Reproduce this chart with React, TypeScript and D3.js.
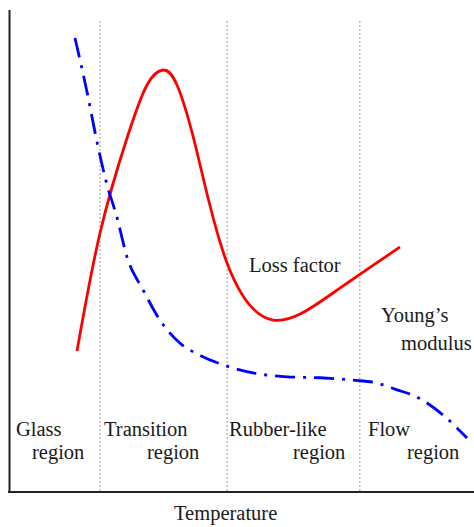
import React from "react";
import * as d3 from "d3";

// Temperature (arbitrary units 0..100) and response (arbitrary units 0..100)
const lossTemp = [14.44, 19.4, 25.22, 29.53, 32.97, 35.99, 40.3, 46.77, 56.68, 69.61, 84.05];
const lossValue = [29.25, 53.73, 73.44, 84.44, 87.55, 84.44, 70.54, 47.51, 35.68, 41.29, 50.83];

const modTemp = [14.0, 16.6, 18.8, 20.7, 23.1, 25.2, 28.7, 32.3, 36.6, 40.9, 46.8, 52.4, 59.7, 66.8, 73.9, 79.1, 83.4, 87.7, 93.3, 98.5];
const modValue = [94.2, 83.0, 72.4, 64.5, 56.8, 48.8, 41.9, 35.7, 30.9, 28.4, 26.1, 24.7, 23.9, 23.7, 23.2, 22.6, 21.2, 19.7, 16.0, 11.2];

// Region boundaries (temperature units)
const boundaries = [19.4, 46.8, 75.4];
const regionNames = [
  ["Glass", "region"],
  ["Transition", "region"],
  ["Rubber-like", "region"],
  ["Flow", "region"],
];

const W = 474;
const H = 527;

export default function App() {
  const x = d3.scaleLinear().domain([0, 100]).range([10, 474]);
  const y = d3.scaleLinear().domain([0, 100]).range([492, 10]);

  const lossLine = d3
    .line<[number, number]>()
    .x((d) => x(d[0]))
    .y((d) => y(d[1]))
    .curve(d3.curveNatural);

  const modLine = d3
    .line<[number, number]>()
    .x((d) => x(d[0]))
    .y((d) => y(d[1]))
    .curve(d3.curveMonotoneX);

  const lossPath = lossLine(lossTemp.map((t, i) => [t, lossValue[i]]));
  const modPath = modLine(modTemp.map((t, i) => [t, modValue[i]]));

  const tStyle: React.CSSProperties = {
    fontFamily: "'Liberation Serif', 'Times New Roman', Times, serif",
    fontSize: "20.5px",
    fill: "#1a1a1a",
  };

  // label positions (pixels)
  const labelPos = [
    [[16, 436], [32, 459]],
    [[104, 436], [147, 459]],
    [[229, 436], [293, 459]],
    [[368, 436], [407, 459]],
  ];

  return (
    <svg
      width={W}
      height={H}
      style={{ position: "absolute", left: 0, top: 0, background: "#fff" }}
    >
      {boundaries.map((b, i) => (
        <line
          key={i}
          x1={x(b)}
          x2={x(b)}
          y1={21}
          y2={y(0)}
          stroke="#9a9a9a"
          strokeWidth={1}
          strokeDasharray="2 2"
        />
      ))}
      <line x1={x(0) - 0.5} x2={x(0) - 0.5} y1={10} y2={y(0) + 1} stroke="#222" strokeWidth={2} />
      <line x1={8} x2={474} y1={y(0)} y2={y(0)} stroke="#222" strokeWidth={2} />

      <path d={lossPath || ""} fill="none" stroke="#ff0000" strokeWidth={2.8} />
      <path
        d={modPath || ""}
        fill="none"
        stroke="#0000ff"
        strokeWidth={2.8}
        strokeDasharray="20 8 3 8"
      />

      {regionNames.map((r, i) => (
        <g key={i}>
          <text style={tStyle} x={labelPos[i][0][0]} y={labelPos[i][0][1]}>{r[0]}</text>
          <text style={tStyle} x={labelPos[i][1][0]} y={labelPos[i][1][1]}>{r[1]}</text>
        </g>
      ))}

      <text style={tStyle} x={249} y={272}>Loss factor</text>
      <text style={tStyle} x={381} y={322}>Young’s</text>
      <text style={tStyle} x={401} y={350}>modulus</text>
      <text style={tStyle} x={174} y={520}>Temperature</text>
    </svg>
  );
}
